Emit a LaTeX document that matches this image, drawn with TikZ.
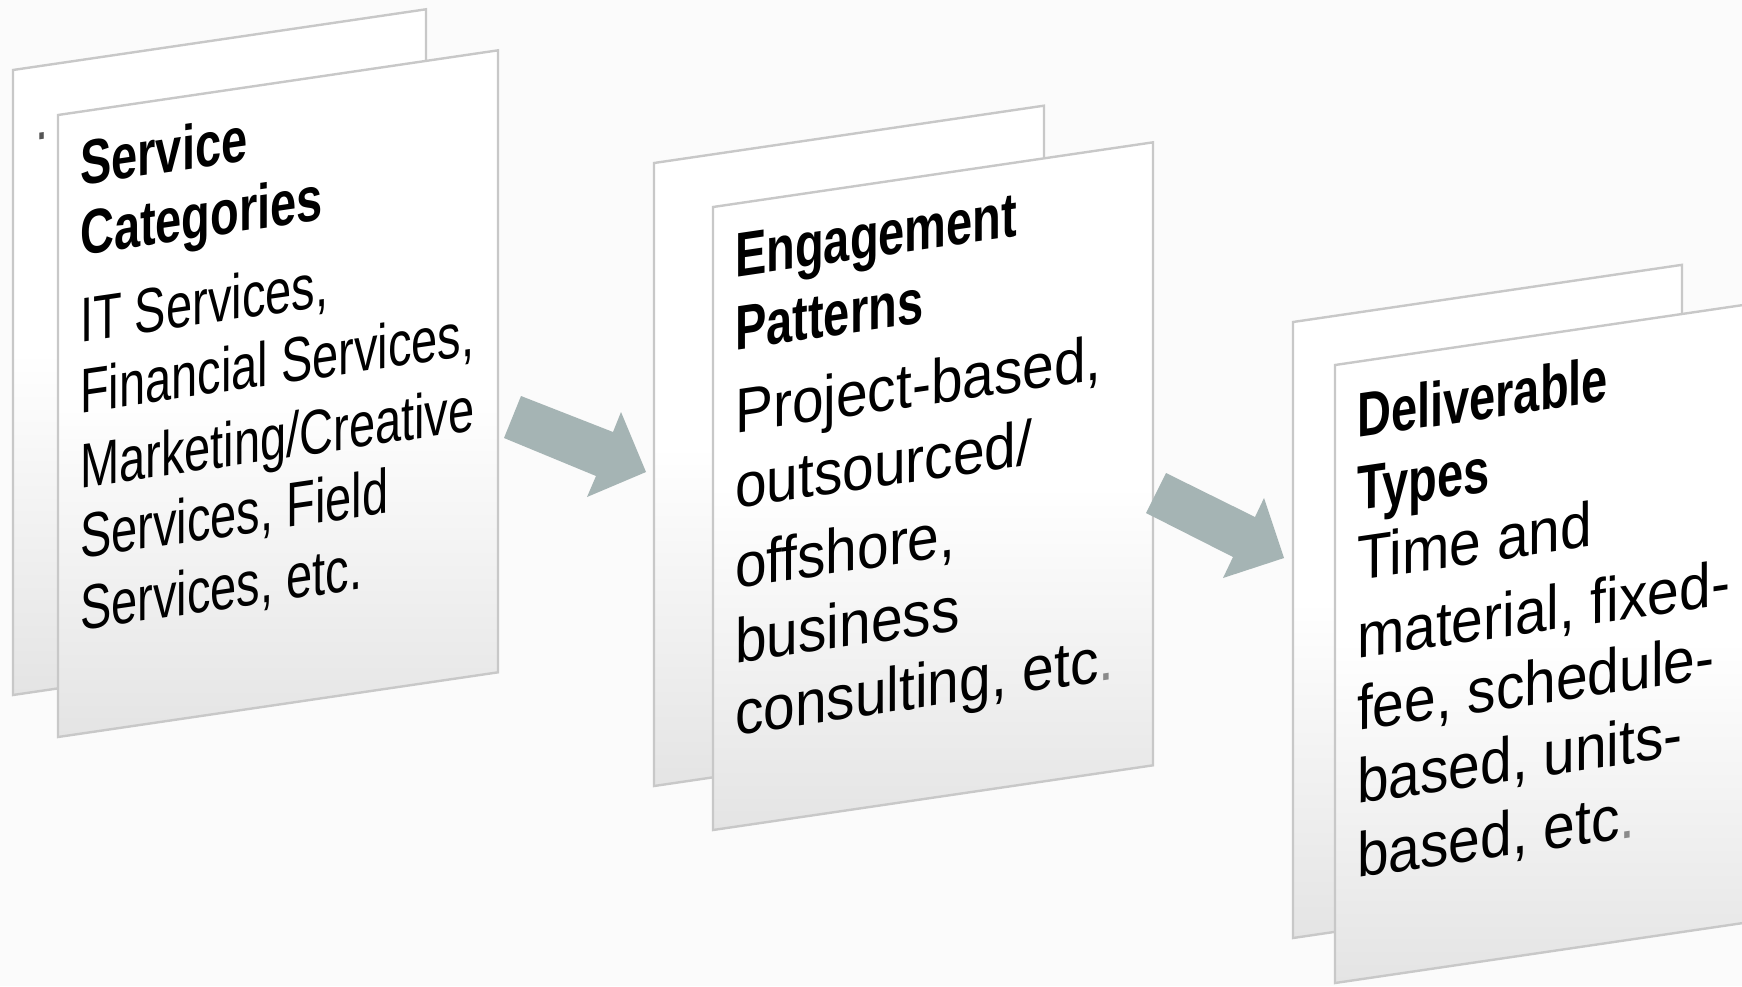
\documentclass[tikz,border=0pt]{standalone}
\usepackage{fontspec}
\setmainfont{Liberation Sans}
\newfontfamily\widesans[FakeStretch=1.21]{Liberation Sans}
\definecolor{bgcol}{HTML}{FBFBFB}
\definecolor{edgecol}{HTML}{C8C8C8}
\definecolor{cardlow}{HTML}{E4E4E4}
\definecolor{arrowcol}{HTML}{A5B4B4}
\definecolor{dotgray}{HTML}{555555}
\definecolor{periodgray}{HTML}{8A8A8A}

\begin{document}
\begin{tikzpicture}[x=1pt,y=1pt,
  cardsheet/.style={draw=edgecol, line width=2.4pt, line join=miter,
    top color=white, bottom color=cardlow, middle color=white},
  % multi-line texts are placed by the baseline of their last line
  cardtext/.style={transform shape, xscale=0.746, anchor=base west,
    inner sep=0pt, align=left, font=\fontsize{63}{73}\selectfont},
  blockarrow/.style={fill=arrowcol}]

% canvas
\fill[bgcol] (0,0) rectangle (1742,-986);
\useasboundingbox (0,0) rectangle (1742,-986);

% ---- stack 1: service categories
\begin{scope}[shift={(13,-70)}, yslant=0.147]
  \path[cardsheet] (0,0) -- (413,0) -- (413,-625) -- (0,-625) -- cycle;
  \node[cardtext, text=dotgray] (stray) at (22,-73.5) {.};
\end{scope}
\begin{scope}[shift={(58,-115)}, yslant=0.147]
  \path[cardsheet] (0,0) -- (440,0) -- (440,-622) -- (0,-622) -- cycle;
  \node[cardtext] (service) at (22,-518.5) {%
    \textbf{Service}\\[-3pt]
    \textbf{Categories}\\[14pt]
    IT Services,\\[-2pt]
    Financial Services,\\[2pt]
    Marketing/Creative\\[-3pt]
    Services, Field\\[-1pt]
    Services, etc.};
\end{scope}

% ---- stack 2: engagement patterns
\begin{scope}[shift={(654,-163)}, yslant=0.147]
  \path[cardsheet] (0,0) -- (390,0) -- (390,-623) -- (0,-623) -- cycle;
\end{scope}
\begin{scope}[shift={(713,-207)}, yslant=0.147]
  \path[cardsheet] (0,0) -- (440,0) -- (440,-623) -- (0,-623) -- cycle;
  \node[cardtext] (engage) at (22,-531.5) {%
    \textbf{Engagement}\\
    \textbf{Patterns}\\[10pt]
    {\widesans Project-based,}\\[2pt]
    {\widesans outsourced/}\\[7pt]
    {\widesans offshore,}\\[2pt]
    {\widesans business}\\[-1pt]
    {\widesans consulting, etc\textcolor{periodgray}{.}}};
\end{scope}

% ---- stack 3: deliverable types
\begin{scope}[shift={(1293,-322)}, yslant=0.147]
  \path[cardsheet] (0,0) -- (389,0) -- (389,-616) -- (0,-616) -- cycle;
\end{scope}
\begin{scope}[shift={(1335,-365)}, yslant=0.147]
  \path[cardsheet] (0,0) -- (440,0) -- (440,-618) -- (0,-618) -- cycle;
  \node[cardtext] (deliver) at (22,-516) {%
    \textbf{Deliverable}\\
    \textbf{Types}\\[-3pt]
    {\widesans Time and}\\[5pt]
    {\widesans material, fixed-}\\[-1pt]
    {\widesans fee, schedule-}\\
    {\widesans based, units-}\\[1pt]
    {\widesans based, etc\textcolor{periodgray}{.}}};
\end{scope}

% ---- block arrows between the stacks
\fill[blockarrow] (521,-396) -- (613,-432) -- (621,-412) -- (646,-472)
  -- (587,-497) -- (596,-476) -- (504,-438) -- cycle;
\fill[blockarrow] (1166,-473) -- (1255,-517) -- (1264,-498) -- (1284,-558)
  -- (1223,-578) -- (1233,-557) -- (1146,-513) -- cycle;
\end{tikzpicture}
\end{document}
